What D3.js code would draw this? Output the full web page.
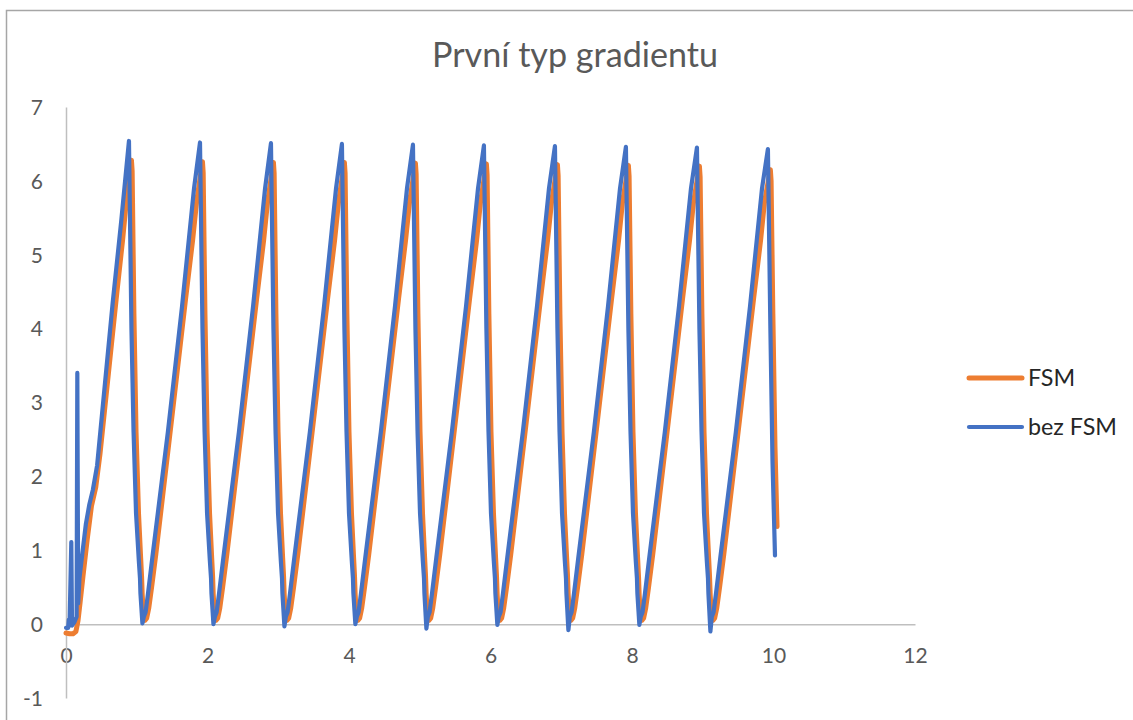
<!DOCTYPE html>
<html><head><meta charset="utf-8">
<script src="https://cdn.jsdelivr.net/npm/d3@7/dist/d3.min.js"></script>
<style>html,body{margin:0;padding:0;background:#fff;overflow:hidden}</style>
</head><body>
<svg id="c" width="1133" height="720"></svg>
<script>
const title = "První typ gradientu";
const seriesNames = ["FSM", "bez FSM"];
const xTicks = [0, 2, 4, 6, 8, 10, 12];
const yTicks = [-1, 0, 1, 2, 3, 4, 5, 6, 7];

// "FSM" (orange)
const fsm = [
[0,-0.12],[0.05,-0.13],[0.1,-0.13],[0.14,-0.1],[0.17,0.05],[0.2,0.3],[0.24,0.65],[0.3,1.15],[0.36,1.6],[0.42,1.85],[0.48,2.3],[0.6,3.4],[0.72,4.5],[0.8,5.2],[0.85,5.7],
[0.925,6.28],[0.935,6.13],[0.96,4.2],[0.99,2.6],[1.025,1.5],[1.055,0.9],[1.068,0.65],[1.077,0.4],[1.095,0.12],[1.115,0.05],[1.14,0.08],[1.17,0.22],[1.21,0.5],[1.27,0.95],[1.49,2.75],[1.69,4.4],[1.79,5.2],[1.844,5.7],
[1.929,6.26],[1.939,6.11],[1.964,4.2],[1.994,2.6],[2.029,1.5],[2.059,0.9],[2.072,0.65],[2.081,0.4],[2.099,0.12],[2.119,0.05],[2.144,0.08],[2.174,0.22],[2.214,0.5],[2.274,0.95],[2.494,2.75],[2.694,4.4],[2.794,5.2],[2.847,5.7],
[2.932,6.25],[2.942,6.1],[2.967,4.2],[2.997,2.6],[3.032,1.5],[3.062,0.9],[3.075,0.65],[3.084,0.4],[3.102,0.12],[3.122,0.05],[3.147,0.08],[3.177,0.22],[3.217,0.5],[3.277,0.95],[3.497,2.75],[3.697,4.4],[3.797,5.2],[3.85,5.7],
[3.935,6.25],[3.945,6.1],[3.97,4.2],[4.0,2.6],[4.035,1.5],[4.065,0.9],[4.078,0.65],[4.087,0.4],[4.105,0.12],[4.125,0.05],[4.15,0.08],[4.18,0.22],[4.22,0.5],[4.28,0.95],[4.5,2.75],[4.7,4.4],[4.8,5.2],[4.854,5.7],
[4.939,6.24],[4.949,6.09],[4.974,4.2],[5.004,2.6],[5.039,1.5],[5.069,0.9],[5.082,0.65],[5.091,0.4],[5.109,0.12],[5.129,0.05],[5.154,0.08],[5.184,0.22],[5.224,0.5],[5.284,0.95],[5.504,2.75],[5.704,4.4],[5.804,5.2],[5.857,5.7],
[5.942,6.23],[5.952,6.08],[5.977,4.2],[6.007,2.6],[6.042,1.5],[6.072,0.9],[6.085,0.65],[6.094,0.4],[6.112,0.12],[6.132,0.05],[6.157,0.08],[6.187,0.22],[6.227,0.5],[6.287,0.95],[6.507,2.75],[6.707,4.4],[6.807,5.2],[6.861,5.7],
[6.946,6.22],[6.956,6.07],[6.981,4.2],[7.011,2.6],[7.046,1.5],[7.076,0.9],[7.089,0.65],[7.098,0.4],[7.116,0.12],[7.136,0.05],[7.161,0.08],[7.191,0.22],[7.231,0.5],[7.291,0.95],[7.511,2.75],[7.711,4.4],[7.811,5.2],[7.864,5.7],
[7.949,6.21],[7.959,6.06],[7.984,4.2],[8.014,2.6],[8.049,1.5],[8.079,0.9],[8.092,0.65],[8.101,0.4],[8.119,0.12],[8.139,0.05],[8.164,0.08],[8.194,0.22],[8.234,0.5],[8.294,0.95],[8.514,2.75],[8.714,4.4],[8.814,5.2],[8.868,5.7],
[8.953,6.2],[8.963,6.05],[8.988,4.2],[9.018,2.6],[9.053,1.5],[9.083,0.9],[9.096,0.65],[9.105,0.4],[9.123,0.12],[9.143,0.05],[9.168,0.08],[9.198,0.22],[9.238,0.5],[9.298,0.95],[9.518,2.75],[9.718,4.4],[9.818,5.2],[9.871,5.7],
[9.956,6.15],[9.966,6.0],[9.991,4.2],[10.021,2.4],[10.05,1.32]
];

// "bez FSM" (blue)
const bezFsm = [
[0,-0.05],[0.03,-0.05],[0.04,0.06],[0.05,-0.02],[0.075,1.11],[0.085,-0.02],[0.115,0.02],[0.15,0.1],[0.16,3.4],[0.172,0.28],[0.19,0.62],[0.23,0.95],[0.28,1.35],[0.33,1.62],[0.38,1.82],[0.44,2.15],[0.55,3.25],[0.66,4.35],[0.78,5.45],
[0.89,6.54],[0.925,4.0],[0.955,2.6],[0.99,1.5],[1.03,0.85],[1.046,0.62],[1.052,0.42],[1.08,0.01],[1.10,0.1],[1.125,0.16],[1.16,0.42],[1.22,0.9],[1.44,2.6],[1.64,4.3],[1.81,5.9],
[1.894,6.52],[1.929,4.0],[1.959,2.6],[1.994,1.5],[2.034,0.85],[2.05,0.62],[2.056,0.42],[2.084,0.0],[2.104,0.1],[2.129,0.16],[2.164,0.42],[2.224,0.9],[2.444,2.6],[2.644,4.3],[2.814,5.9],
[2.897,6.51],[2.932,4.0],[2.962,2.6],[2.997,1.5],[3.037,0.85],[3.053,0.62],[3.059,0.42],[3.087,-0.03],[3.107,0.1],[3.132,0.16],[3.167,0.42],[3.227,0.9],[3.447,2.6],[3.647,4.3],[3.817,5.9],
[3.9,6.5],[3.935,4.0],[3.965,2.6],[4.0,1.5],[4.04,0.85],[4.056,0.62],[4.062,0.42],[4.09,0.0],[4.11,0.1],[4.135,0.16],[4.17,0.42],[4.23,0.9],[4.45,2.6],[4.65,4.3],[4.82,5.9],
[4.904,6.49],[4.939,4.0],[4.969,2.6],[5.004,1.5],[5.044,0.85],[5.06,0.62],[5.066,0.42],[5.094,-0.06],[5.114,0.1],[5.139,0.16],[5.174,0.42],[5.234,0.9],[5.454,2.6],[5.654,4.3],[5.824,5.9],
[5.907,6.48],[5.942,4.0],[5.972,2.6],[6.007,1.5],[6.047,0.85],[6.063,0.62],[6.069,0.42],[6.097,-0.01],[6.117,0.1],[6.142,0.16],[6.177,0.42],[6.237,0.9],[6.457,2.6],[6.657,4.3],[6.827,5.9],
[6.911,6.47],[6.946,4.0],[6.976,2.6],[7.011,1.5],[7.051,0.85],[7.067,0.62],[7.073,0.42],[7.101,-0.08],[7.121,0.1],[7.146,0.16],[7.181,0.42],[7.241,0.9],[7.461,2.6],[7.661,4.3],[7.831,5.9],
[7.914,6.46],[7.949,4.0],[7.979,2.6],[8.014,1.5],[8.054,0.85],[8.07,0.62],[8.076,0.42],[8.104,-0.01],[8.124,0.1],[8.149,0.16],[8.184,0.42],[8.244,0.9],[8.464,2.6],[8.664,4.3],[8.834,5.9],
[8.918,6.45],[8.953,4.0],[8.983,2.6],[9.018,1.5],[9.058,0.85],[9.074,0.62],[9.080,0.42],[9.108,-0.1],[9.128,0.1],[9.153,0.16],[9.188,0.42],[9.248,0.9],[9.468,2.6],[9.668,4.3],[9.838,5.9],
[9.921,6.43],[9.956,4.0],[9.986,2.2],[10.021,0.93]
];

const colors = ["#ED7D31", "#4472C4"];
const widths = [5, 4.2];
const font = "Lato, 'Open Sans', sans-serif";
const textColor = "#595959";

const svg = d3.select("#c");
// outer chart border
svg.append("rect").attr("x", 6.5).attr("y", 10.5).attr("width", 1140).attr("height", 720)
  .attr("fill", "none").attr("stroke", "#a6a6a6").attr("stroke-width", 1.5);

const x = d3.scaleLinear().domain([0, 12]).range([66, 915]);
const y = d3.scaleLinear().domain([-1, 7]).range([698, 107]);

function fitText(sel, target) {
  const fs = parseFloat(sel.attr("font-size"));
  const w = sel.node().getComputedTextLength();
  const nfs = fs * target / w;
  sel.attr("font-size", nfs.toFixed(2));
  return nfs;
}

// title
const t = svg.append("text").attr("x", 575).attr("y", 67).attr("text-anchor", "middle")
  .attr("font-family", font).attr("font-size", 30).attr("fill", textColor).text(title);
fitText(t, 286);

// axes
const xAxis = svg.append("g").attr("transform", `translate(0,${y(0)})`)
  .call(d3.axisBottom(x).tickValues(xTicks).tickSize(0).tickPadding(32).tickFormat(d3.format("d")));
xAxis.select(".domain").attr("stroke", "#bfbfbf").attr("stroke-width", 1.5);
xAxis.selectAll("text").attr("dy", "0.35em").attr("font-family", font).attr("font-size", 21).attr("fill", textColor);

const yAxis = svg.append("g").attr("transform", `translate(${x(0)},0)`)
  .call(d3.axisLeft(y).tickValues(yTicks).tickSize(0).tickPadding(23).tickFormat(d3.format("d")));
yAxis.select(".domain").attr("stroke", "#bfbfbf").attr("stroke-width", 1.5);
yAxis.selectAll("text").attr("dy", "0.35em").attr("font-family", font).attr("font-size", 21).attr("fill", textColor);
yAxis.selectAll("text").text(d => String(d));

const line = d3.line().x(d => x(d[0])).y(d => y(d[1]));
const data = [fsm, bezFsm];
data.forEach((s, i) => {
  svg.append("path").datum(s).attr("d", line).attr("fill", "none")
    .attr("stroke", colors[i]).attr("stroke-width", widths[i])
    .attr("stroke-linejoin", "round").attr("stroke-linecap", "round");
});

// legend
const legY = [378, 427];
const legTexts = [];
seriesNames.forEach((n, i) => {
  svg.append("line").attr("x1", 969).attr("x2", 1022).attr("y1", legY[i]).attr("y2", legY[i])
    .attr("stroke", colors[i]).attr("stroke-width", widths[i]).attr("stroke-linecap", "round");
  legTexts.push(svg.append("text").attr("x", 1028).attr("y", legY[i]).attr("dy", "0.35em")
    .attr("font-family", font).attr("font-size", 21).attr("fill", "#262626").text(n));
});
const lfs = fitText(legTexts[1], 89);
legTexts[0].attr("font-size", lfs.toFixed(2));
</script>
</body></html>
